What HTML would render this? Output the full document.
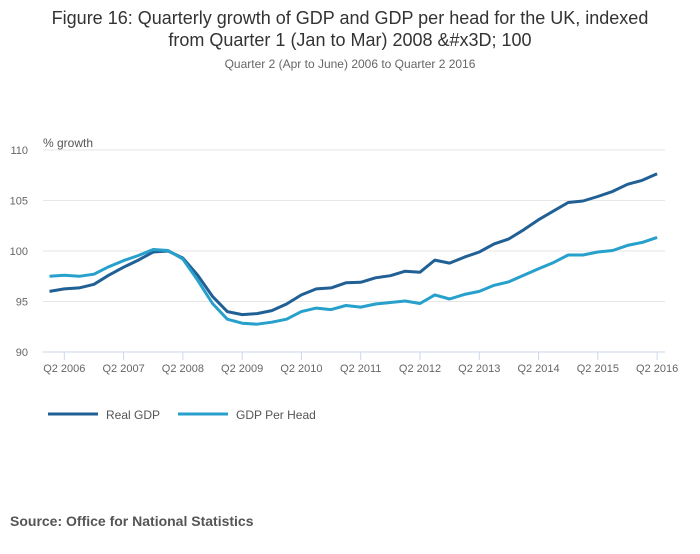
<!DOCTYPE html>
<html><head><meta charset="utf-8"><style>
body{margin:0;background:#fff;font-family:"Liberation Sans",sans-serif;}
svg text{font-family:"Liberation Sans",sans-serif;}
</style></head><body>
<svg id="chart" width="700" height="549">
<text x="350" y="24" text-anchor="middle" font-size="18" fill="#333">Figure 16: Quarterly growth of GDP and GDP per head for the UK, indexed</text>
<text x="350" y="46" text-anchor="middle" font-size="18" fill="#333">from Quarter 1 (Jan to Mar) 2008 &amp;#x3D; 100</text>
<text x="350" y="68" text-anchor="middle" font-size="12" fill="#666">Quarter 2 (Apr to June) 2006 to Quarter 2 2016</text>
<text x="43" y="147" font-size="12" fill="#555">% growth</text>
<g id="grid"></g><g id="xaxis"></g><g id="lines"></g>
<line x1="48" y1="414" x2="98" y2="414" stroke="#206095" stroke-width="3"/>
<text x="106" y="419" font-size="12" fill="#555">Real GDP</text>
<line x1="178" y1="414" x2="228" y2="414" stroke="#27a0cc" stroke-width="3"/>
<text x="236" y="419" font-size="12" fill="#555">GDP Per Head</text>
<text x="10" y="526" font-size="14" font-weight="bold" fill="#555">Source: Office for National Statistics</text>
</svg>
<script>
const yTicks=[90,95,100,105,110];
const xTickLabels=["Q2 2006","Q2 2007","Q2 2008","Q2 2009","Q2 2010","Q2 2011","Q2 2012","Q2 2013","Q2 2014","Q2 2015","Q2 2016"];
const realGDP=[96.0,96.25,96.35,96.7,97.6,98.4,99.1,99.9,100.0,99.3,97.6,95.5,94.0,93.7,93.8,94.1,94.75,95.65,96.25,96.35,96.85,96.9,97.35,97.55,98.0,97.9,99.1,98.8,99.4,99.9,100.7,101.2,102.1,103.1,103.95,104.8,104.95,105.4,105.9,106.6,107.0,107.65];
const gdpPerHead=[97.5,97.6,97.5,97.7,98.45,99.05,99.55,100.15,100.05,99.2,97.1,94.8,93.25,92.85,92.75,92.95,93.25,94.0,94.35,94.2,94.6,94.45,94.75,94.9,95.05,94.8,95.65,95.25,95.7,96.0,96.6,96.95,97.6,98.25,98.85,99.6,99.6,99.9,100.05,100.55,100.85,101.35];
const NS="http://www.w3.org/2000/svg";
const x=i=>49.5+i*14.82;
const y=v=>352-(v-90)*10.1;
function mk(t,a,p){const e=document.createElementNS(NS,t);for(const k in a)e.setAttribute(k,a[k]);p.appendChild(e);return e;}
const grid=document.getElementById('grid');
yTicks.forEach(v=>{
 const l=mk('line',{x1:43,x2:665,y1:y(v),y2:y(v),stroke:v===90?'#ccd6eb':'#e6e6e6','stroke-width':1},grid);
 
 
 const t=mk('text',{x:28,y:y(v)+4,'text-anchor':'end','font-size':11,fill:'#666'},grid);
 t.textContent=v;
 
 
});
const xa=document.getElementById('xaxis');
xTickLabels.forEach((s,k)=>{
 const i=1+k*4;
 const l=mk('line',{x1:x(i),x2:x(i),y1:352,y2:360,stroke:'#ccd6eb'},xa);
 
 
 const t=mk('text',{x:x(i),y:372,'text-anchor':'middle','font-size':11,fill:'#666'},xa);
 t.textContent=s;
 
 
});
const lg=document.getElementById('lines');
[[realGDP,'#206095','line-real-gdp'],[gdpPerHead,'#27a0cc','line-gdp-per-head']].forEach(([d,c,n])=>{
 const p=mk('path',{d:d.map((v,i)=>(i?'L':'M')+x(i).toFixed(1)+','+y(v).toFixed(1)).join(''),fill:'none',stroke:c,'stroke-width':3,'stroke-linejoin':'round'},lg);
 
 
});
</script>
</body></html>
